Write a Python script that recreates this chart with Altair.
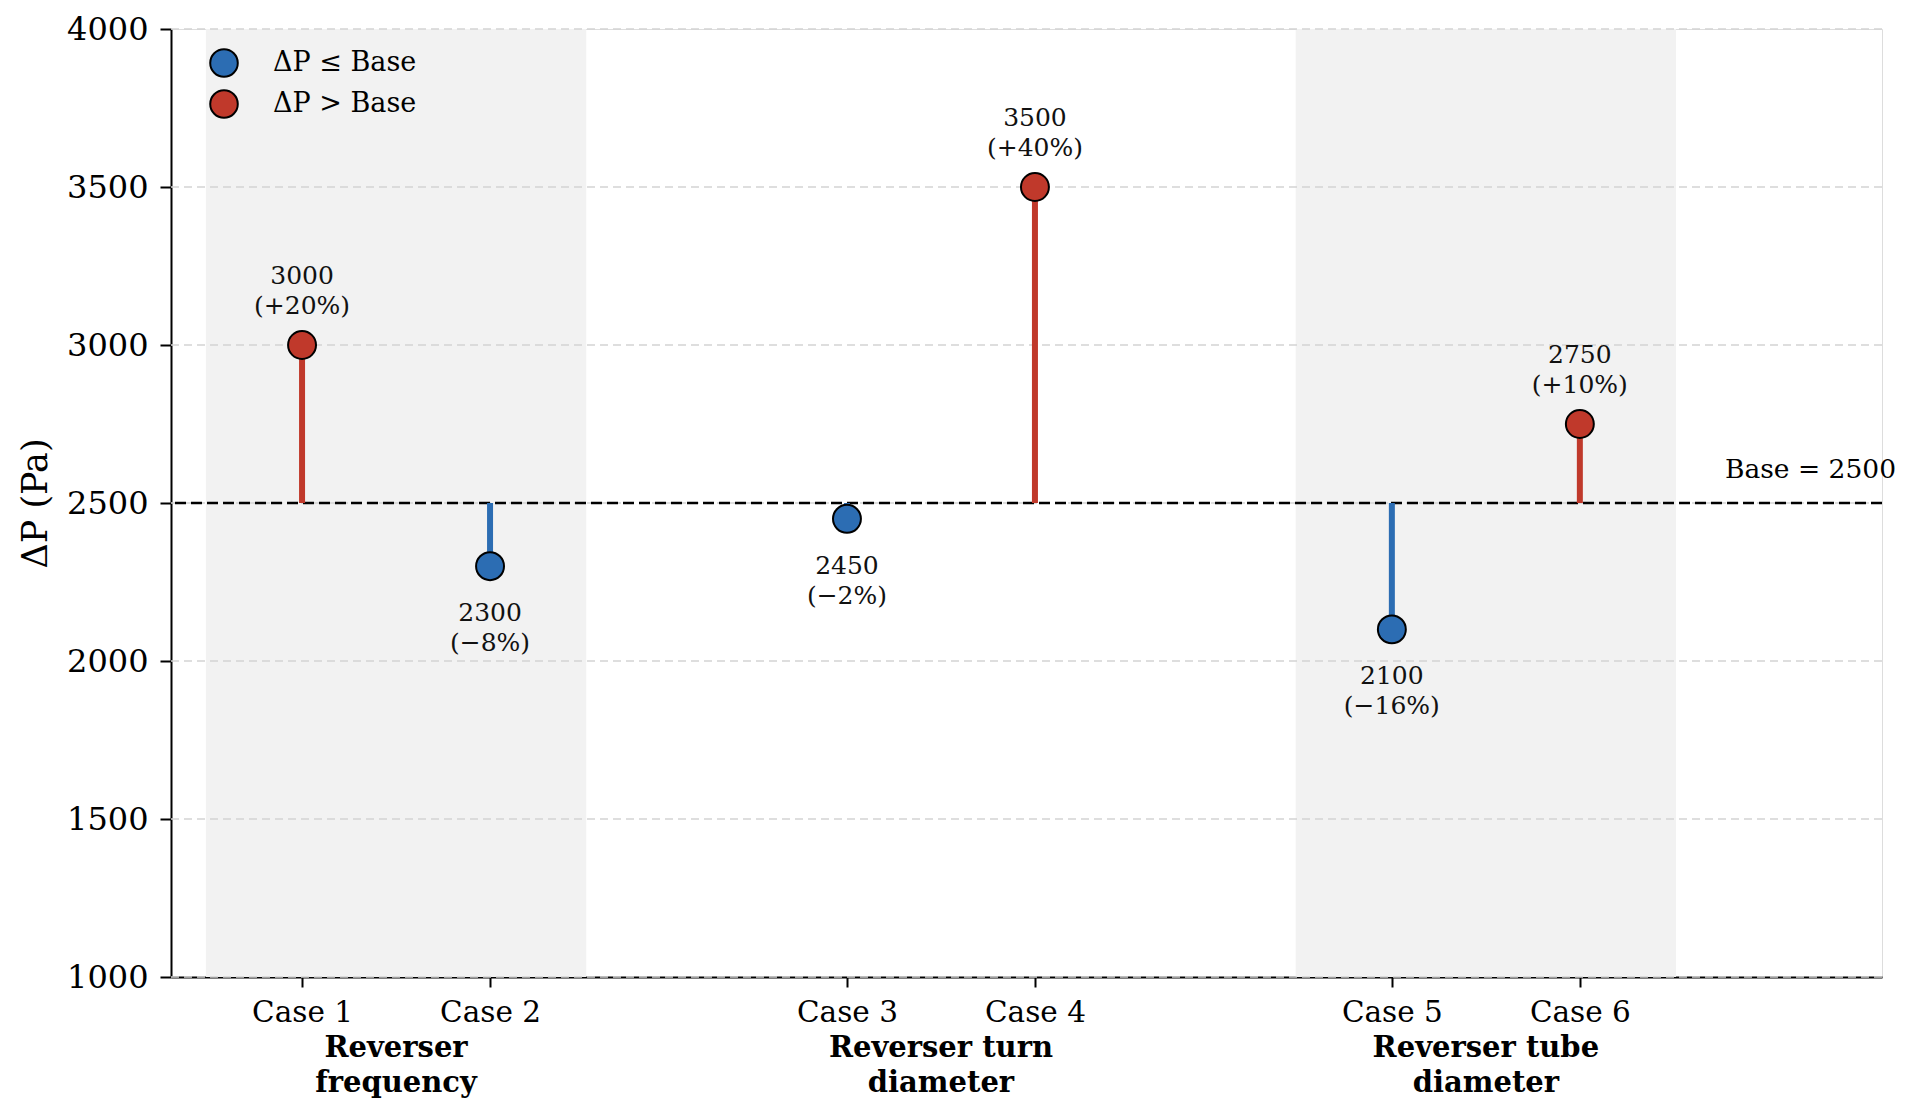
import altair as alt
import pandas as pd

# ---- data ----
cases = ["Case 1", "Case 2", "Case 3", "Case 4", "Case 5", "Case 6"]
case_group = [0, 0, 1, 1, 2, 2]
case_side = [-1, 1, -1, 1, -1, 1]
dp_values = [3000, 2300, 2450, 3500, 2100, 2750]
pct_labels = ["+20%", "\u22128%", "\u22122%", "+40%", "\u221216%", "+10%"]
group_names = ["Reverser\nfrequency", "Reverser turn\ndiameter", "Reverser tube\ndiameter"]
shaded_groups = [0, 2]
base_value = 2500
y_ticks = [1000, 1500, 2000, 2500, 3000, 3500, 4000]
legend_labels = ["\u0394P \u2264  Base", "\u0394P >  Base"]

# ---- layout constants ----
HALF_PAIR = 0.1725
HALF_BAND = 0.349
X_MIN, X_MAX = -0.413, 2.727
W, H = 1711, 948
FONT = "DejaVu Serif"
BLUE = "#2c6db3"
RED = "#c0392b"

xpos = [round(g + s * HALF_PAIR, 4) for g, s in zip(case_group, case_side)]
status = [legend_labels[1] if v > base_value else legend_labels[0] for v in dp_values]
df = pd.DataFrame({
    "case": cases,
    "x": xpos,
    "value": dp_values,
    "base": [base_value] * len(cases),
    "status": status,
    "label": [f"{v}\n({p})" for v, p in zip(dp_values, pct_labels)],
})

groups_df = pd.DataFrame({
    "g": list(range(len(group_names))),
    "name": group_names,
})
groups_df["x0"] = groups_df["g"] - HALF_BAND
groups_df["x1"] = groups_df["g"] + HALF_BAND
shade_df = groups_df[groups_df["g"].isin(shaded_groups)]

grid_df = pd.DataFrame({"y": y_ticks})
base_df = pd.DataFrame({"y": [base_value], "x": [X_MAX], "t": [f"Base = {base_value}"]})

label_expr = "[" + ",".join(f"'{c}'" for c in cases) + "][indexof([" + ",".join(repr(v) for v in xpos) + "], datum.value)]"

xscale = alt.Scale(domain=[X_MIN, X_MAX], nice=False, zero=False)
yscale = alt.Scale(domain=[1000, 4000], nice=False, zero=False)

x_axis = alt.Axis(
    values=xpos, labelExpr=label_expr, title=None, grid=False,
    labelFont=FONT, labelFontSize=29.5, labelColor="black", labelPadding=11,
    tickSize=10, tickWidth=2, tickColor="black",
    domainColor="black", domainWidth=2,
)
y_axis = alt.Axis(
    values=y_ticks, format="d", title="\u0394P (Pa)", grid=False,
    labelFont=FONT, labelFontSize=32, labelColor="black", labelPadding=12,
    tickSize=11, tickWidth=2, tickColor="black",
    domainColor="black", domainWidth=2,
    titleFont=FONT, titleFontSize=35, titleFontWeight="normal", titleColor="black",
    titlePadding=13,
)

shade = alt.Chart(shade_df).mark_rect(color="#f2f2f2").encode(
    x=alt.X("x0:Q", scale=xscale, axis=x_axis),
    x2="x1:Q",
    y=alt.datum(1000, scale=yscale, axis=y_axis),
    y2=alt.datum(4000),
)

grid = alt.Chart(grid_df).mark_rule(color="#d4d4d4", strokeWidth=1.5, strokeDash=[8, 5]).encode(
    y=alt.Y("y:Q", scale=yscale),
)

base_rule = alt.Chart(base_df).mark_rule(color="black", strokeWidth=2.5, strokeDash=[11, 5]).encode(
    y=alt.Y("y:Q", scale=yscale),
)

stems = alt.Chart(df).mark_rule(strokeWidth=6).encode(
    x=alt.X("x:Q", scale=xscale),
    y=alt.Y("base:Q", scale=yscale),
    y2="value:Q",
    stroke=alt.Stroke("status:N", scale=alt.Scale(domain=legend_labels, range=[BLUE, RED]), legend=None),
)

points = alt.Chart(df).mark_circle(size=780, opacity=1, stroke="black", strokeWidth=2).encode(
    x=alt.X("x:Q", scale=xscale),
    y=alt.Y("value:Q", scale=yscale),
    color=alt.Color(
        "status:N", scale=alt.Scale(domain=legend_labels, range=[BLUE, RED]),
        legend=alt.Legend(
            title=None, orient="none", legendX=38, legendY=19, padding=0,
            symbolType="circle", symbolSize=760, symbolStrokeColor="black",
            symbolStrokeWidth=2, symbolOpacity=1,
            labelFont=FONT, labelFontSize=27, labelColor="black",
            labelOffset=34, rowPadding=5,
        ),
    ),
)

above = alt.Chart(df).transform_filter(f"datum.value > {base_value}").mark_text(
    font=FONT, fontSize=25, color="#111111", baseline="bottom", align="center",
    dy=-56, lineBreak="\n", lineHeight=30,
).encode(
    x=alt.X("x:Q", scale=xscale),
    y=alt.Y("value:Q", scale=yscale),
    text="label:N",
)

below = alt.Chart(df).transform_filter(f"datum.value <= {base_value}").mark_text(
    font=FONT, fontSize=25, color="#111111", baseline="top", align="center",
    dy=35, lineBreak="\n", lineHeight=30,
).encode(
    x=alt.X("x:Q", scale=xscale),
    y=alt.Y("value:Q", scale=yscale),
    text="label:N",
)

base_text = alt.Chart(base_df).mark_text(
    font=FONT, fontSize=26.5, color="black", align="right", baseline="alphabetic",
    dx=14, dy=-25,
).encode(
    x=alt.X("x:Q", scale=xscale),
    y=alt.Y("y:Q", scale=yscale),
    text="t:N",
)

group_text = alt.Chart(groups_df).mark_text(
    font=FONT, fontSize=29, fontWeight="bold", color="black", align="center",
    baseline="top", lineBreak="\n", lineHeight=35,
).encode(
    x=alt.X("g:Q", scale=xscale),
    y=alt.value(H + 57),
    text="name:N",
)

chart = alt.layer(
    shade, grid, base_rule, stems, points, above, below, base_text, group_text
).resolve_scale(color="independent", stroke="independent").properties(
    width=W, height=H,
    padding={"left": 10, "top": 5, "right": 5, "bottom": 5},
).configure_view(stroke=None).configure(background="white")

chart.save("out.html", embed_options={"renderer": "svg", "actions": False})
